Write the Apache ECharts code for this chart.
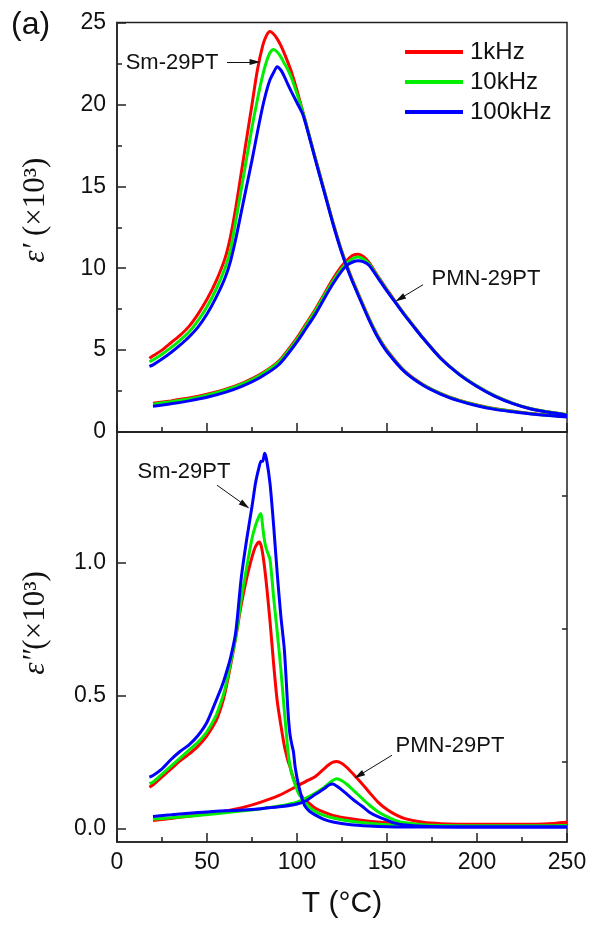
<!DOCTYPE html>
<html>
<head>
<meta charset="utf-8">
<script src="https://cdn.jsdelivr.net/npm/echarts@6/dist/echarts.min.js"></script>
<style>
  html, body { margin: 0; padding: 0; background: #fff; }
  #main { width: 590px; height: 929px; }
</style>
</head>
<body>
<div id="main"></div>
<script>
// ---------- DATA ----------
const legendNames = ['1kHz', '10kHz', '100kHz'];
const xTicks = [0, 50, 100, 150, 200, 250];
const epsLossTickLabels = [0, 0.5, 1.0];
const epsLossMinorTicks = [0.25, 0.75, 1.25];

// Top panel: eps' (x10^3), Sm-29PT
const T_sm_top = [18, 20, 25, 30, 35, 40, 45, 50, 55, 60, 63, 66, 69, 72, 75, 78, 81, 83, 85, 87,
  89, 91, 93, 95, 97, 100, 103, 105, 110, 115, 120, 125, 130, 135, 140, 145, 150, 160, 170, 180,
  190, 200, 210, 220, 230, 240, 250];
const sm_eps1_1k = [4.5, 4.65, 5.0, 5.45, 5.9, 6.45, 7.2, 8.1, 9.2, 10.6, 11.9, 13.7, 15.8, 17.9, 20.0, 22.1, 23.6, 24.2, 24.45, 24.3,
  24.0, 23.6, 23.1, 22.55, 21.95, 20.85, 19.65, 18.85, 16.8, 14.8, 12.8, 11.0, 9.5, 8.2, 6.95, 5.85, 5.0, 3.7, 2.9, 2.35,
  1.95, 1.65, 1.42, 1.27, 1.13, 1.03, 0.95];
const sm_eps1_10k = [4.3, 4.4, 4.75, 5.15, 5.6, 6.1, 6.8, 7.65, 8.7, 10.0, 11.1, 12.9, 14.8, 16.7, 18.6, 20.3, 21.8, 22.6, 23.15, 23.35,
  23.2, 22.9, 22.5, 22.1, 21.6, 20.65, 19.6, 18.82, 16.75, 14.75, 12.75, 10.95, 9.45, 8.15, 6.9, 5.8, 4.95, 3.68, 2.88, 2.33,
  1.93, 1.63, 1.41, 1.26, 1.12, 1.02, 0.94];
const sm_eps1_100k = [4.0, 4.1, 4.45, 4.85, 5.3, 5.8, 6.4, 7.2, 8.2, 9.4, 10.4, 11.8, 13.4, 15.0, 16.6, 18.3, 19.9, 20.8, 21.5, 21.95,
  22.3, 22.1, 21.7, 21.2, 20.75, 20.1, 19.45, 18.75, 16.7, 14.7, 12.7, 10.9, 9.4, 8.1, 6.85, 5.75, 4.9, 3.65, 2.85, 2.3,
  1.9, 1.6, 1.38, 1.23, 1.1, 1.0, 0.92];

// Top panel: eps' (x10^3), PMN-29PT
const T_pmn_top = [20, 30, 40, 50, 60, 70, 80, 90, 100, 105, 110, 115, 120, 125, 128, 131, 134, 137, 140, 145,
  150, 155, 160, 165, 170, 180, 190, 200, 210, 220, 230, 240, 250];
const pmn_eps1_1k = [1.75, 1.9, 2.07, 2.3, 2.6, 3.0, 3.55, 4.35, 5.75, 6.6, 7.45, 8.4, 9.35, 10.15, 10.5, 10.78, 10.85, 10.7, 10.35, 9.5,
  8.7, 7.9, 7.15, 6.45, 5.75, 4.5, 3.55, 2.8, 2.2, 1.75, 1.42, 1.22, 1.05];
const pmn_eps1_10k = [1.7, 1.85, 2.02, 2.25, 2.55, 2.95, 3.5, 4.28, 5.65, 6.5, 7.35, 8.3, 9.22, 10.0, 10.35, 10.58, 10.68, 10.55, 10.28, 9.45,
  8.65, 7.88, 7.13, 6.43, 5.74, 4.49, 3.54, 2.8, 2.2, 1.75, 1.42, 1.22, 1.05];
const pmn_eps1_100k = [1.57, 1.72, 1.9, 2.12, 2.42, 2.82, 3.36, 4.12, 5.5, 6.32, 7.15, 8.12, 9.05, 9.85, 10.2, 10.38, 10.45, 10.38, 10.18, 9.4,
  8.6, 7.85, 7.1, 6.4, 5.72, 4.47, 3.52, 2.78, 2.18, 1.73, 1.4, 1.2, 1.03];

// Bottom panel: eps'' (x10^3), Sm-29PT
const T_sm_bot = [18, 20, 25, 30, 35, 40, 45, 50, 55, 58, 60, 63, 66, 69, 72, 75, 77, 79, 80, 81,
  82, 83, 85, 87, 89, 91, 93, 95, 96, 97, 98, 99, 101, 104, 107, 110, 115, 120, 130, 140,
  150, 160, 180, 200, 220, 240, 250];
const sm_eps2_1k = [0.156, 0.165, 0.195, 0.225, 0.255, 0.28, 0.31, 0.35, 0.405, 0.46, 0.51, 0.61, 0.72, 0.84, 0.94, 1.02, 1.06, 1.077, 1.065, 1.03,
  0.98, 0.92, 0.78, 0.62, 0.48, 0.39, 0.31, 0.255, 0.235, 0.21, 0.19, 0.17, 0.14, 0.11, 0.094, 0.078, 0.062, 0.05, 0.037, 0.028,
  0.022, 0.018, 0.015, 0.014, 0.015, 0.018, 0.024];
const sm_eps2_10k = [0.169, 0.175, 0.205, 0.235, 0.265, 0.295, 0.325, 0.365, 0.425, 0.48, 0.525, 0.62, 0.72, 0.86, 0.98, 1.09, 1.14, 1.175, 1.184, 1.13,
  1.08, 1.05, 1.01, 0.87, 0.74, 0.6, 0.44, 0.29, 0.24, 0.21, 0.185, 0.165, 0.13, 0.105, 0.08, 0.065, 0.05, 0.04, 0.028, 0.02,
  0.015, 0.012, 0.01, 0.01, 0.01, 0.01, 0.012];
const sm_eps2_100k = [0.194, 0.2, 0.225, 0.26, 0.29, 0.315, 0.35, 0.4, 0.48, 0.53, 0.57, 0.64, 0.74, 0.94, 1.084, 1.21, 1.3, 1.36, 1.38, 1.38,
  1.41, 1.39, 1.297, 1.14, 0.96, 0.8, 0.67, 0.44, 0.36, 0.32, 0.29, 0.23, 0.16, 0.09, 0.065, 0.052, 0.035, 0.025, 0.015, 0.01,
  0.007, 0.006, 0.006, 0.006, 0.006, 0.006, 0.006];

// Bottom panel: eps'' (x10^3), PMN-29PT
const T_pmn_bot = [20, 30, 40, 50, 60, 70, 80, 90, 100, 105, 110, 115, 118, 120, 122, 125, 128, 132, 136, 140,
  145, 150, 155, 160, 170, 180, 200, 220, 240, 250];
const pmn_eps2_1k = [0.031, 0.038, 0.047, 0.056, 0.066, 0.08, 0.1, 0.125, 0.16, 0.178, 0.195, 0.225, 0.242, 0.25, 0.252, 0.245, 0.228, 0.2, 0.17, 0.138,
  0.1, 0.072, 0.052, 0.038, 0.024, 0.019, 0.017, 0.017, 0.018, 0.024];
const pmn_eps2_10k = [0.036, 0.041, 0.047, 0.053, 0.06, 0.067, 0.075, 0.085, 0.1, 0.115, 0.133, 0.155, 0.172, 0.182, 0.188, 0.18, 0.165, 0.14, 0.115, 0.09,
  0.064, 0.045, 0.03, 0.022, 0.015, 0.012, 0.01, 0.01, 0.01, 0.012];
const pmn_eps2_100k = [0.046, 0.052, 0.058, 0.063, 0.067, 0.07, 0.075, 0.082, 0.093, 0.105, 0.128, 0.15, 0.165, 0.168, 0.16, 0.145, 0.128, 0.105, 0.085, 0.063,
  0.045, 0.032, 0.02, 0.014, 0.009, 0.007, 0.006, 0.006, 0.006, 0.006];

// Annotations (data coordinates)
const annotTop = [
  { text: 'Sm-29PT', at: [30.6, 22.53], from: [61.1, 22.59], to: [76.7, 22.59] },
  { text: 'PMN-29PT', at: [205, 9.36], from: [170, 8.99], to: [157.2, 8.14] }
];
const annotBot = [
  { text: 'Sm-29PT', at: [37.2, 1.339], from: [55.6, 1.29], to: [71.1, 1.215] },
  { text: 'PMN-29PT', at: [185, 0.309], from: [152.8, 0.276], to: [134.4, 0.2] }
];

// ---------- CHART ----------
const colors = ['#ff0000', '#00ee00', '#0000ff'];
const axisColor = '#222';
const sansFont = 'Liberation Sans';
const serifFont = 'Liberation Serif';

function pairs(ts, vs) { return ts.map((t, i) => [t, vs[i]]); }

function markers(list) {
  return {
    markPoint: {
      silent: true,
      symbol: 'rect',
      symbolSize: 1,
      itemStyle: { color: 'rgba(0,0,0,0)' },
      label: { show: true, position: 'inside', fontFamily: sansFont, fontSize: 22, color: '#111' },
      data: list.map(a => ({ coord: a.at, value: a.text, label: { formatter: a.text } }))
    },
    markLine: {
      silent: true,
      animation: false,
      symbol: ['none', 'triangle'],
      symbolSize: [6, 11],
      lineStyle: { color: '#111', width: 1, type: 'solid' },
      label: { show: false },
      emphasis: { disabled: true },
      data: list.map(a => [{ coord: a.from }, { coord: a.to }])
    }
  };
}

const series = [];
const topSets = [
  [sm_eps1_1k, pmn_eps1_1k],
  [sm_eps1_10k, pmn_eps1_10k],
  [sm_eps1_100k, pmn_eps1_100k]
];
const botSets = [
  [sm_eps2_1k, pmn_eps2_1k],
  [sm_eps2_10k, pmn_eps2_10k],
  [sm_eps2_100k, pmn_eps2_100k]
];
function lineSeries(name, color, xi, yi, data) {
  return {
    type: 'line', name: name, xAxisIndex: xi, yAxisIndex: yi, data: data,
    symbol: 'none', showSymbol: false, smooth: 0.25,
    color: color, itemStyle: { color: color }, lineStyle: { color: color, width: 3 },
    emphasis: { disabled: true }, animation: false
  };
}
for (let k = 0; k < 3; k++) {
  series.push(lineSeries(legendNames[k], colors[k], 0, 0, pairs(T_sm_top, topSets[k][0])));
  const s = lineSeries(legendNames[k], colors[k], 0, 0, pairs(T_pmn_top, topSets[k][1]));
  if (k === 2) Object.assign(s, markers(annotTop));
  series.push(s);
}
for (let k = 0; k < 3; k++) {
  series.push(lineSeries(legendNames[k], colors[k], 1, 1, pairs(T_sm_bot, botSets[k][0])));
  const s = lineSeries(legendNames[k], colors[k], 1, 1, pairs(T_pmn_bot, botSets[k][1]));
  if (k === 2) Object.assign(s, markers(annotBot));
  series.push(s);
}

const lineStyleAxis = { color: axisColor, width: 1.5 };
function xAxisCfg(gi, showLabels) {
  return {
    type: 'value', gridIndex: gi, min: xTicks[0], max: xTicks[xTicks.length - 1], interval: 50,
    axisLine: { show: true, onZero: false, lineStyle: lineStyleAxis },
    axisTick: { show: true, inside: true, length: 9, lineStyle: lineStyleAxis },
    minorTick: { show: true, splitNumber: 2, length: 5, lineStyle: lineStyleAxis },
    splitLine: { show: false },
    axisLabel: { show: showLabels, fontFamily: sansFont, fontSize: 23, color: '#111', margin: 9 },
    name: showLabels ? 'T (°C)' : '',
    nameLocation: 'middle', nameGap: 47,
    nameTextStyle: { fontFamily: sansFont, fontSize: 30, color: '#111' }
  };
}
function yNameStyle(shift) {
  return {
    fontFamily: serifFont, fontSize: 31, color: '#111',
    padding: [0, 0, 0, shift],
    rich: {
      e: { fontFamily: serifFont, fontStyle: 'italic', fontSize: 31, color: '#111' },
      n: { fontFamily: serifFont, fontSize: 31, color: '#111' }
    }
  };
}

const option = {
  backgroundColor: '#fff',
  animation: false,
  grid: [
    { left: 117, right: 23, top: 22.5, height: 409.5, show: true, borderColor: axisColor, borderWidth: 1.5, backgroundColor: 'transparent' },
    { left: 117, right: 23, top: 432, height: 410, show: true, borderColor: axisColor, borderWidth: 1.5, backgroundColor: 'transparent' }
  ],
  legend: {
    data: legendNames,
    orient: 'vertical', left: 400, top: 35,
    icon: 'rect',
    itemWidth: 58, itemHeight: 4, itemGap: 6,
    selectedMode: false,
    textStyle: { fontFamily: sansFont, fontSize: 24, color: '#111', lineHeight: 24, padding: [0, 0, 0, 2] }
  },
  xAxis: [xAxisCfg(0, false), xAxisCfg(1, true)],
  yAxis: [
    {
      type: 'value', gridIndex: 0, min: 0, max: 25, interval: 5,
      axisLine: { show: true, lineStyle: lineStyleAxis },
      axisTick: { show: true, inside: true, length: 9, lineStyle: lineStyleAxis },
      minorTick: { show: true, splitNumber: 2, length: 5, lineStyle: lineStyleAxis },
      splitLine: { show: false },
      axisLabel: { fontFamily: sansFont, fontSize: 23, color: '#111', margin: 11 },
      name: '{e|ε′} {n|(×10³)}', nameLocation: 'middle', nameGap: 66,
      nameTextStyle: yNameStyle(34)
    },
    {
      type: 'value', gridIndex: 1, min: -0.05, max: 1.49,
      axisLine: { show: true, lineStyle: lineStyleAxis },
      axisTick: { show: true, inside: true, length: 9, lineStyle: lineStyleAxis, customValues: epsLossTickLabels },
      splitLine: { show: false },
      axisLabel: { fontFamily: sansFont, fontSize: 23, color: '#111', margin: 11,
        customValues: epsLossTickLabels, formatter: v => Number(v).toFixed(1) },
      name: '{e|ε″}{n|(×10³)}', nameLocation: 'middle', nameGap: 66,
      nameTextStyle: yNameStyle(28)
    },
    {
      type: 'value', gridIndex: 1, min: -0.05, max: 1.49,
      axisLine: { show: false },
      axisTick: { show: true, inside: true, length: 5, lineStyle: lineStyleAxis, customValues: epsLossMinorTicks },
      splitLine: { show: false },
      axisLabel: { show: false, customValues: epsLossMinorTicks }
    }
  ],
  graphic: [
    { type: 'text', left: 11, top: 9, style: { text: '(a)', fontFamily: sansFont, fontSize: 32, fill: '#111' } }
  ],
  series: series
};

const chart = echarts.init(document.getElementById('main'), null, { renderer: 'canvas' });
chart.setOption(option);
</script>
</body>
</html>
